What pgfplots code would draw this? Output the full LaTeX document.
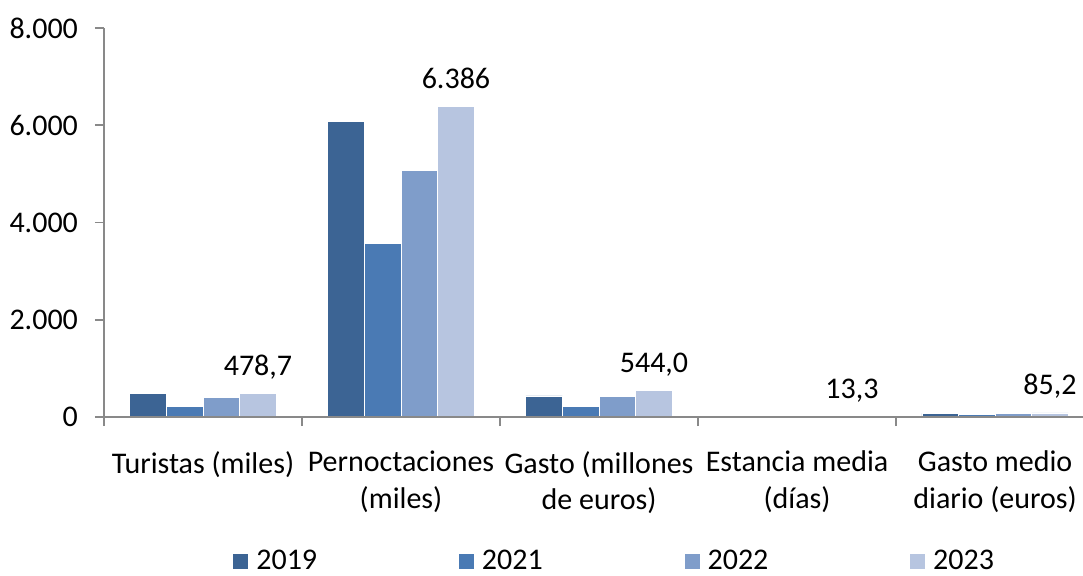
\documentclass[border=0pt]{standalone}
\usepackage{pgfplots}
\pgfplotsset{compat=1.18}
\usepackage{pgfplotstable}
\usepackage{fontspec}
\setmainfont{Carlito}
\definecolor{c19}{HTML}{3C6494}
\definecolor{c21}{HTML}{4A7AB4}
\definecolor{c22}{HTML}{7F9DCA}
\definecolor{c23}{HTML}{B7C5E0}
\definecolor{axgray}{HTML}{898989}

\pgfplotstableread{
x y
0 479
1 6076
2 436
3 11.9
4 74
}\dataA
\pgfplotstableread{
x y
0 222
1 3574
2 216
3 15.2
4 60
}\dataB
\pgfplotstableread{
x y
0 402
1 5076
2 430
3 12.4
4 82
}\dataC
\pgfplotstableread{
x y lab
0 478.7 478,7
1 6386 6.386
2 544.0 544,0
3 13.3 13,3
4 85.2 85,2
}\dataD

\begin{document}
\begin{tikzpicture}[font=\fontsize{15}{18.2}\selectfont]
\begin{axis}[
  scale only axis, width=489.5pt, height=194.5pt,
  xmin=-0.5, xmax=4.444, ymin=0, ymax=8000,
  axis lines*=left,
  axis on top,
  axis line style={axgray, line width=0.8pt},
  tick style={axgray, line width=0.8pt},
  tick align=outside,
  major tick length=4.5pt,
  ytick={0,2000,4000,6000,8000},
  yticklabels={0,2.000,4.000,6.000,8.000},
  yticklabel style={anchor=east, xshift=-5pt},
  xtick={-0.5,0.5,1.5,2.5,3.5},
  xticklabels={Turistas (miles),Pernoctaciones\\(miles),Gasto (millones\\de euros),Estancia media\\(días),Gasto medio\\diario (euros)},
  xticklabel style={align=center, anchor=north, yshift=-9pt, xshift=49.5pt},
  ybar=0pt, bar width=0.185,
  legend columns=4,
  legend style={at={(0.1307,-0.371)}, anchor=west, draw=none, fill=none,
    nodes={inner sep=0pt},
    /tikz/every odd column/.append style={column sep=3.7pt},
    /tikz/every even column/.append style={column sep=70.4pt},
    inner sep=0pt},
  legend image code/.code={\fill[#1] (0pt,-4pt) rectangle (8pt,4pt);},
  clip=false,
]
\addplot[fill=c19, draw=white, line width=0.3pt] table[x=x,y=y]{\dataA};
\addplot[fill=c21, draw=white, line width=0.3pt] table[x=x,y=y]{\dataB};
\addplot[fill=c22, draw=white, line width=0.3pt] table[x=x,y=y]{\dataC};
\addplot[fill=c23, draw=white, line width=0.3pt,
  point meta=explicit symbolic, nodes near coords,
  every node near coord/.append style={anchor=base, yshift=9pt, text=black}]
  table[x=x,y=y,meta=lab]{\dataD};
\legend{2019,2021,2022,2023}
\end{axis}
\pgfresetboundingbox
\path (current axis.south west) ++(-52pt,-79pt) rectangle ++(541.5pt,287.5pt);
\end{tikzpicture}
\end{document}
